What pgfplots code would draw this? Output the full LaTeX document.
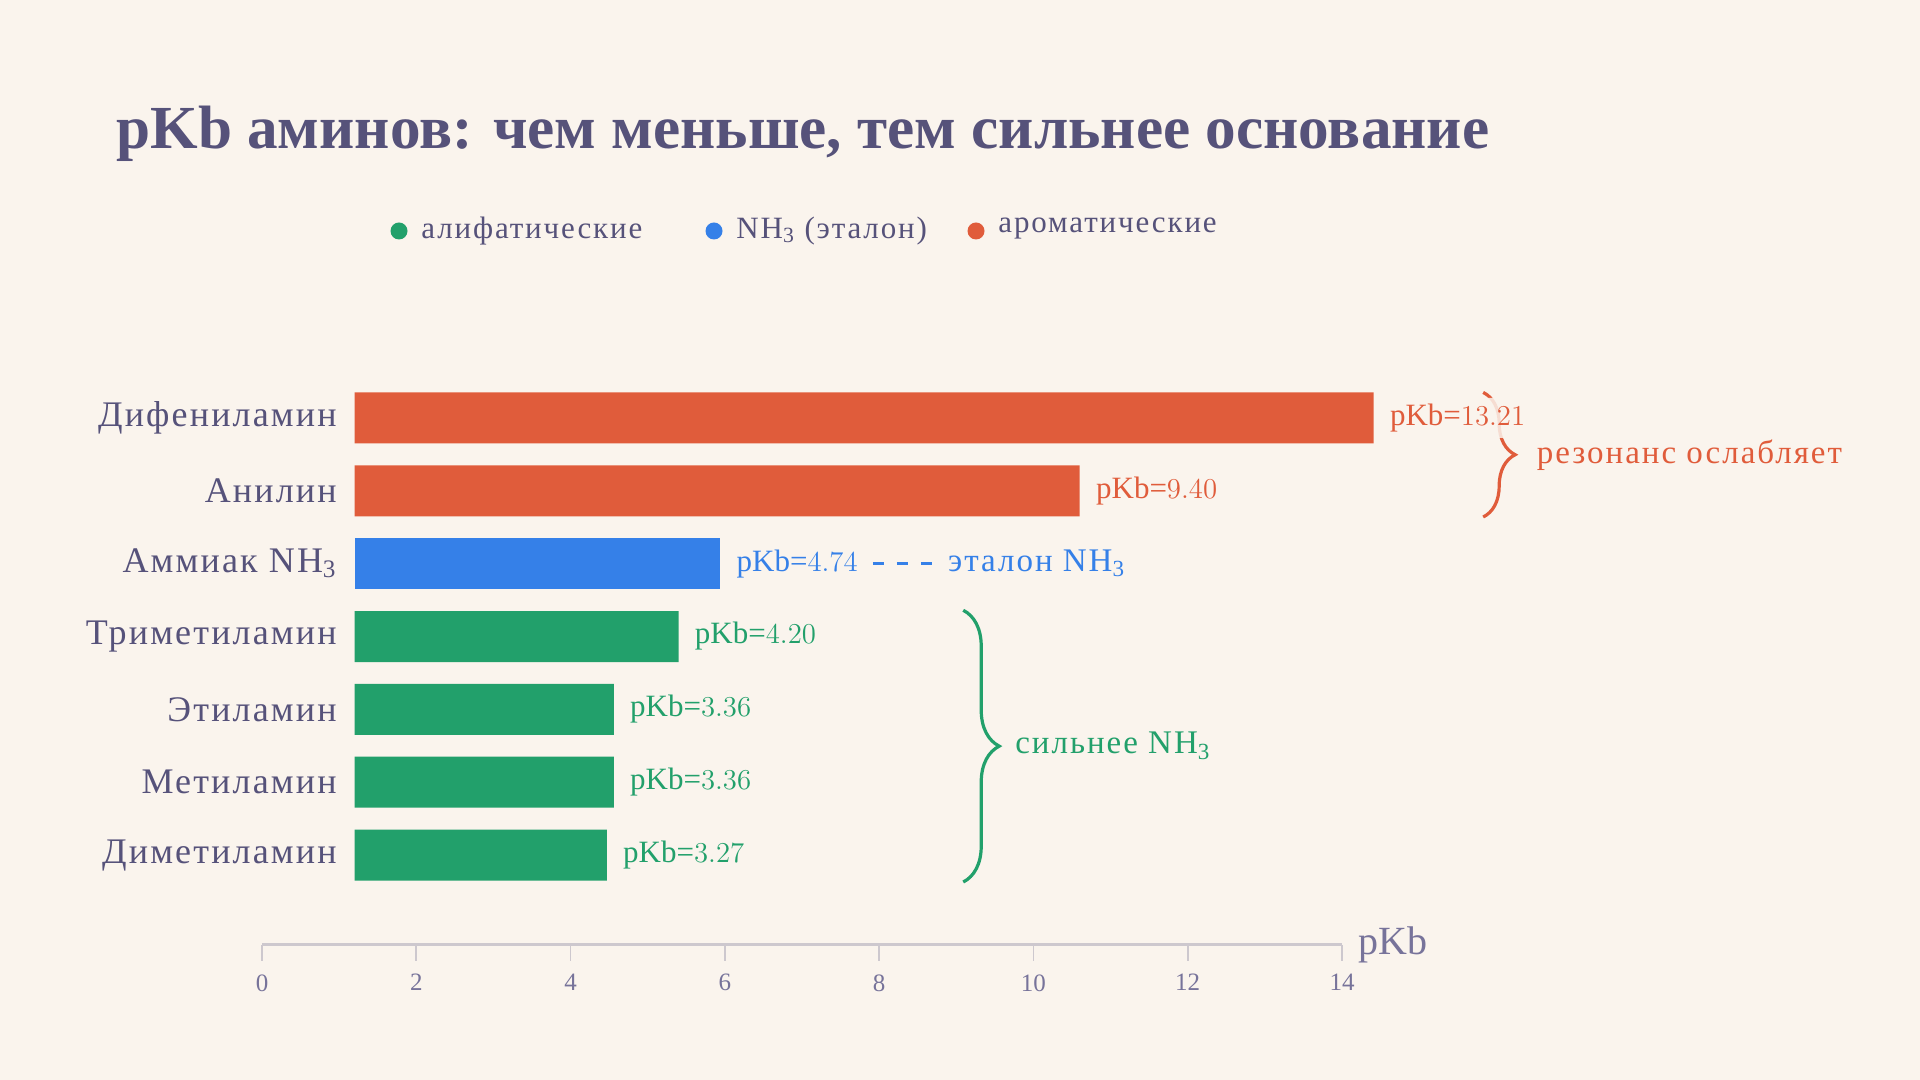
\documentclass[border=0pt]{standalone}
\usepackage{fontspec}
\setmainfont{Liberation Serif}
\newfontfamily\lsfont{Liberation Serif}[LetterSpace=6]
\usepackage{pgfplots}
\pgfplotsset{compat=1.18}
\usetikzlibrary{decorations.pathreplacing}

\definecolor{bgc}{HTML}{FAF4ED}
\definecolor{ink}{HTML}{56527A}
\definecolor{redc}{HTML}{E05C3B}
\definecolor{bluec}{HTML}{3580E8}
\definecolor{greenc}{HTML}{22A06B}
\definecolor{axc}{HTML}{CDC8CE}
\definecolor{tickc}{HTML}{77739A}

\begin{document}
\begin{tikzpicture}
\fill[bgc] (0,0) rectangle (960pt,540pt);

% title
\node[anchor=base west, inner sep=0pt, text=ink,
      font=\fontsize{30.6}{35}\selectfont\bfseries]
  at (58pt,465.5pt) {pKb аминов: чем меньше, тем сильнее основание};

% legend
\fill[greenc] (199.5pt,424.5pt) circle (4.25pt);
\node[anchor=west, inner sep=0pt, text=ink, font=\fontsize{15.5}{17}\lsfont] at (210.5pt,424.5pt) {алифатические};
\fill[bluec] (357pt,424.5pt) circle (4.25pt);
\node[anchor=west, inner sep=0pt, text=ink, font=\fontsize{15.5}{17}\lsfont] at (368pt,424.5pt) {NH\textsubscript{3} (эталон)};
\fill[redc] (488pt,424.5pt) circle (4.25pt);
\node[anchor=west, inner sep=0pt, text=ink, font=\fontsize{15.5}{17}\lsfont] at (499pt,425.5pt) {ароматические};

\begin{axis}[
    at={(131pt,94.25pt)}, anchor=south west,
    scale only axis, width=540pt, height=255pt,
    xmin=-1.2, xmax=12.8, ymin=-0.5, ymax=6.5,
    xbar, bar width=0.7, bar shift=0pt,
    axis line style={draw=none},
    xtick=\empty,
    ytick={0,...,6},
    yticklabels={Диметиламин, Метиламин, Этиламин, Триметиламин, Аммиак NH\textsubscript{3}, Анилин, Дифениламин},
    major tick length=0pt,
    yticklabel style={anchor=east, inner sep=0pt, xshift=37.5pt, text=ink, font=\fontsize{18}{20}\lsfont},
    clip=false,
    point meta=x,
    nodes near coords={pKb=\pgfmathprintnumber[fixed,fixed zerofill,precision=2]{\pgfplotspointmeta}},
    every node near coord/.append style={anchor=west, inner ysep=3pt, inner xsep=2pt, xshift=6pt,
        fill=bgc, fill opacity=0.85, text opacity=1, rounded corners=3pt,
        font=\fontsize{15.5}{17}\selectfont},
]
% brace behind the labels
\draw[redc, line width=1.6pt, decorate, decoration={brace, amplitude=16pt}]
  (axis cs:14.63,6.35) -- (axis cs:14.63,4.64);
\draw[bluec, line width=1.2pt, dash pattern=on 5.5pt off 6.5pt] (axis cs:6.72,4) -- (axis cs:7.55,4);

\addplot[fill=greenc, draw=none, every node near coord/.append style={text=greenc}] coordinates {
    (3.27,0) (3.36,1) (3.36,2) (4.20,3)
};
\addplot[fill=bluec, draw=none, every node near coord/.append style={text=bluec}] coordinates {
    (4.74,4)
};
\addplot[fill=redc, draw=none, every node near coord/.append style={text=redc}] coordinates {
    (9.40,5) (13.21,6)
};

\node[anchor=west, inner sep=0pt, text=bluec, font=\fontsize{16.5}{18}\lsfont] at (axis cs:7.69,4) {эталон NH\textsubscript{3}};
\draw[greenc, line width=1.6pt, decorate, decoration={brace, amplitude=18pt}]
  (axis cs:7.89,3.36) -- (axis cs:7.89,-0.37);
\node[anchor=west, inner sep=0pt, text=greenc, font=\fontsize{16.5}{18}\lsfont] at (axis cs:8.56,1.5) {сильнее NH\textsubscript{3}};
\node[anchor=west, inner sep=0pt, text=redc, font=\fontsize{16.5}{18}\lsfont] at (axis cs:15.32,5.49) {резонанс ослабляет};
\end{axis}

\begin{axis}[
    at={(131pt,67.5pt)}, anchor=south west,
    scale only axis, width=540pt, height=10pt,
    xmin=0, xmax=14, ymin=0, ymax=1,
    axis x line*=bottom, axis y line=none,
    axis line style={-},
    x axis line style={draw=axc, line width=1.5pt},
    xtick={0,2,...,14},
    tick align=outside, major tick length=8pt,
    xtick style={draw=axc, line width=0.8pt},
    xticklabel style={anchor=north, inner sep=0pt, yshift=-6.5pt, text=tickc, font=\fontsize{12.5}{14}\selectfont},
    /pgf/number format/assume math mode=true,
]
\end{axis}
\node[anchor=base west, inner sep=0pt, text=tickc, font=\fontsize{20}{22}\selectfont] at (679pt,62.5pt) {pKb};
\end{tikzpicture}
\end{document}
